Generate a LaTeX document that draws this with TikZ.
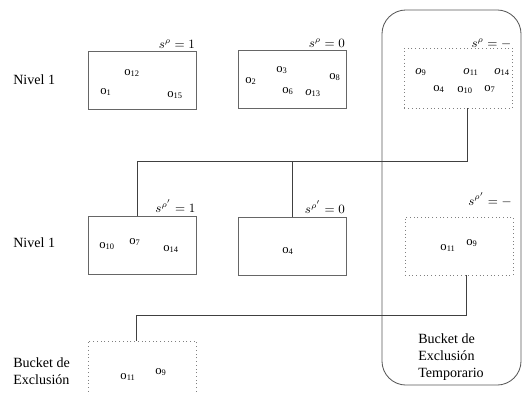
\documentclass[tikz,border=0pt]{standalone}
\usepackage{fontspec}
\setmainfont{Liberation Serif}
\usetikzlibrary{positioning,calc}
\tikzset{
    bucket/.style={rectangle, draw=black!60, line width=0.65pt, inner sep=0pt, minimum width=2.7cm, minimum height=1.45cm},
    temp bucket/.style={bucket, draw=black!50, dotted},
    obj/.style={inner sep=1pt, font=\small},
    slabel/.style={anchor=south east, inner sep=1pt, font=\small},
    level/.style={anchor=west, align=left, inner sep=0pt},
    link/.style={draw=black!75, line width=0.6pt}
}

\begin{document}
\begin{tikzpicture}[x=0.025cm, y=-0.025cm]
\useasboundingbox (0,0) rectangle (525,394);
\clip (0,0) rectangle (525,394);
% temporary exclusion zone
\node[draw=black!65, line width=0.6pt, rounded corners=0.6cm, minimum width=3.475cm, minimum height=9.375cm] (tempzone) at (451.5,197.5) {};
\node[level] (templabel) at (418,357) {Bucket de\\Exclusión\\Temporario};
% level labels
\node[level] (nivel1) at (13,80) {Nivel 1};
\node[level] (nivel2) at (13,243) {Nivel 1};
\node[level] (exclabel) at (13,371) {Bucket de\\Exclusión};
% first level buckets
\node[bucket] (b1) at (142,80) {};
\node[bucket] (b2) at (292,79) {};
\node[temp bucket, minimum height=1.5cm] (b3) at (458.5,78) {};
\node[slabel] (s1) at (b1.north east) {$s^{\rho}=1$};
\node[slabel] (s2) at (b2.north east) {$s^{\rho}=0$};
\node[slabel] (s3) at ([yshift=-2pt]b3.north east) {$s^{\rho}=-$};
\node[obj] (o12) at (132,73) {o\textsubscript{12}};
\node[obj] (o1) at (106,92) {o\textsubscript{1}};
\node[obj] (o15) at (175,95) {o\textsubscript{15}};
\node[obj] (o3) at (282,70) {o\textsubscript{3}};
\node[obj] (o2) at (251,81) {o\textsubscript{2}};
\node[obj] (o8) at (335,77) {o\textsubscript{8}};
\node[obj] (o6) at (288,91) {o\textsubscript{6}};
\node[obj] (o13) at (313,93) {\textit{o}\textsubscript{13}};
\node[obj] (o9a) at (421,72) {\textit{o}\textsubscript{9}};
\node[obj] (o11a) at (471,72) {\textit{o}\textsubscript{11}};
\node[obj] (o14a) at (502,72) {\textit{o}\textsubscript{14}};
\node[obj] (o4a) at (439,89) {o\textsubscript{4}};
\node[obj] (o10a) at (465,90) {o\textsubscript{10}};
\node[obj] (o7a) at (490,89) {o\textsubscript{7}};
% second level buckets
\node[bucket] (b4) at (142.5,245) {};
\node[bucket] (b5) at (292,246) {};
\node[temp bucket] (b6) at (459,246) {};
\node[slabel] (s4) at ([yshift=1pt]b4.north east) {$s^{\rho'}=1$};
\node[slabel] (s5) at ([yshift=1pt]b5.north east) {$s^{\rho'}=0$};
\node[slabel] (s6) at ([yshift=6pt]b6.north east) {$s^{\rho'}=-$};
\node[obj] (o10b) at (107,246) {o\textsubscript{10}};
\node[obj] (o7b) at (135,242) {o\textsubscript{7}};
\node[obj] (o14b) at (171,249) {o\textsubscript{14}};
\node[obj] (o4b) at (288,251) {o\textsubscript{4}};
\node[obj] (o11b) at (448,248) {o\textsubscript{11}};
\node[obj] (o9b) at (472,243) {o\textsubscript{9}};
% exclusion bucket
\node[temp bucket, minimum height=1.55cm] (b7) at (142,372) {};
\node[obj] (o11c) at (128,377) {o\textsubscript{11}};
\node[obj] (o9c) at (161,372) {o\textsubscript{9}};
% connectors
\coordinate (j1) at (467,161);
\coordinate (j2) at (466,315);
\draw[link] (b3.south -| j1) -- (j1) -| ([xshift=-3.5]b4.north);
\draw[link] (j1 -| b5.north) -- (b5.north);
\draw[link] (b6.south -| j2) -- (j2) -| ([xshift=-4]b7.north);
\end{tikzpicture}
\end{document}
